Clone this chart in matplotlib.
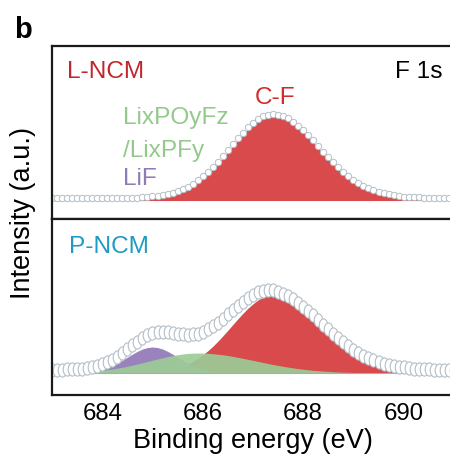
import matplotlib
matplotlib.use('Agg')
import matplotlib.pyplot as plt
import numpy as np
from matplotlib.path import Path
from matplotlib.transforms import Affine2D

plt.rcParams['font.family'] = ['Liberation Sans', 'DejaVu Sans']

# binding energy grid (eV), 683.0 ... 691.0 in 0.1 steps
energia = np.round(np.arange(683.0, 691.05, 0.1), 1)

# L-NCM (top panel), intensidade em u.a.
L_dados = [2.0, 2.0, 2.0, 2.0, 2.0, 2.0, 2.0, 2.0, 2.0, 2.0,
           2.0, 2.0, 2.1, 2.1, 2.2, 2.3, 2.4, 2.5, 2.8, 3.1,
           3.6, 4.2, 4.9, 6.0, 7.3, 8.9, 10.9, 13.4, 16.3, 19.7,
           23.6, 28.1, 33.0, 38.4, 44.1, 50.0, 55.9, 61.8, 67.5, 72.7,
           77.2, 80.9, 83.7, 85.4, 86.0, 85.5, 84.0, 81.6, 78.4, 74.5,
           69.9, 64.9, 59.6, 54.1, 48.5, 43.1, 37.9, 33.0, 28.4, 24.2,
           20.5, 17.2, 14.4, 12.0, 9.9, 8.2, 6.8, 5.7, 4.8, 4.1,
           3.5, 3.1, 2.8, 2.6, 2.4, 2.3, 2.2, 2.1, 2.1, 2.1, 2.1]
L_CF = [0, 0, 0, 0, 0, 0, 0, 0, 0, 0,
        0, 0, 0.1, 0.1, 0.2, 0.3, 0.4, 0.5, 0.8, 1.1,
        1.6, 2.2, 2.9, 4.0, 5.3, 6.9, 8.9, 11.4, 14.3, 17.7,
        21.6, 26.1, 31.0, 36.4, 42.1, 48.0, 53.9, 59.8, 65.5, 70.7,
        75.2, 78.9, 81.7, 83.4, 84.0, 83.5, 82.0, 79.6, 76.4, 72.5,
        67.9, 62.9, 57.6, 52.1, 46.5, 41.1, 35.9, 31.0, 26.4, 22.2,
        18.5, 15.2, 12.4, 10.0, 7.9, 6.2, 4.8, 3.7, 2.8, 2.1,
        1.5, 1.1, 0.8, 0.6, 0.4, 0.3, 0.2, 0.1, 0.1, 0.1, 0.1]

# P-NCM (bottom panel)
P_dados = [3.2, 3.3, 3.3, 3.6, 3.7, 4.0, 4.5, 5.1, 5.9, 7.1,
           8.7, 10.7, 13.3, 16.4, 19.9, 23.9, 27.7, 31.5, 34.9, 37.7,
           39.7, 40.7, 41.0, 40.7, 40.1, 39.2, 38.6, 38.4, 38.6, 39.5,
           41.3, 43.7, 46.7, 50.3, 54.3, 58.7, 63.1, 67.4, 71.4, 75.2,
           78.3, 80.8, 82.4, 83.0, 82.6, 81.4, 79.5, 77.1, 73.9, 70.3,
           66.5, 62.2, 57.6, 53.0, 48.3, 43.7, 39.2, 34.7, 30.7, 26.9,
           23.4, 20.3, 17.4, 15.1, 12.9, 11.0, 9.4, 8.2, 7.1, 6.2,
           5.6, 4.8, 4.4, 4.1, 3.8, 3.6, 3.5, 3.3, 3.2, 3.2, 3.1]
P_CF = [0, 0, 0, 0, 0, 0, 0, 0, 0, 0,
        0, 0, 0, 0, 0, 0.1, 0.2, 0.3, 0.5, 0.7,
        1.1, 1.5, 2.1, 2.9, 4.0, 5.3, 7.0, 9.1, 11.6, 14.6,
        18.2, 22.2, 26.7, 31.7, 37.1, 42.7, 48.5, 54.2, 59.7, 64.8,
        69.2, 73.0, 75.7, 77.4, 78.0, 77.6, 76.5, 74.6, 72.0, 68.8,
        65.2, 61.1, 56.6, 52.0, 47.3, 42.6, 38.0, 33.5, 29.3, 25.3,
        21.7, 18.4, 15.4, 12.8, 10.6, 8.6, 6.9, 5.5, 4.4, 3.4,
        2.7, 2.0, 1.5, 1.2, 0.9, 0.6, 0.5, 0.3, 0.2, 0.2, 0.1]
P_LiF = [0, 0, 0, 0.1, 0.2, 0.3, 0.5, 0.9, 1.5, 2.3,
         3.5, 5.1, 7.2, 9.8, 12.7, 15.8, 18.9, 21.7, 24.0, 25.5,
         26.0, 25.5, 24.0, 21.7, 18.9, 15.8, 12.7, 9.8, 7.2, 5.1,
         3.5, 2.3, 1.5, 0.9, 0.5, 0.3, 0.2, 0.1, 0, 0,
         0, 0, 0, 0, 0, 0, 0, 0, 0, 0,
         0, 0, 0, 0, 0, 0, 0, 0, 0, 0,
         0, 0, 0, 0, 0, 0, 0, 0, 0, 0,
         0, 0, 0, 0, 0, 0, 0, 0, 0, 0, 0]
P_LixPOyFz = [0.2, 0.3, 0.3, 0.5, 0.6, 0.8, 1.1, 1.4, 1.7, 2.2,
              2.7, 3.3, 4.0, 4.8, 5.7, 6.8, 7.8, 9.0, 10.2, 11.5,
              12.8, 14.0, 15.2, 16.4, 17.4, 18.3, 19.0, 19.6, 19.9, 20.0,
              19.9, 19.7, 19.3, 18.8, 18.2, 17.5, 16.6, 15.7, 14.7, 13.7,
              12.7, 11.6, 10.6, 9.5, 8.5, 7.6, 6.7, 5.9, 5.1, 4.4,
              3.8, 3.2, 2.7, 2.3, 1.9, 1.6, 1.3, 1.0, 0.8, 0.7,
              0.5, 0.4, 0.3, 0.3, 0.2, 0.1, 0.1, 0.1, 0.1, 0.1,
              0.1, 0, 0, 0, 0, 0, 0, 0, 0, 0, 0]

xTicks = [684, 686, 688, 690]

corVermelho = '#D84A4B'
corVerde = '#9DCB97'
corRoxo = '#9A82BC'
corCirculo = '#B3BEC7'

# circulo achatado (os pontos parecem elipses na figura original)
elipse = Path.unit_circle().transformed(Affine2D().scale(0.65, 1.0))

fig = plt.figure(figsize=(4.5, 4.6), dpi=100, facecolor='w')
ax1 = fig.add_axes([0.1156, 0.5217, 0.893, 0.376])
ax2 = fig.add_axes([0.1156, 0.1391, 0.893, 0.3826])

####painel L-NCM
ax1.axhline(0, color=corVermelho, linewidth=0.8)
ax1.fill_between(energia, 0, L_CF, color=corVermelho, linewidth=0)
ax1.plot(energia, L_dados, linestyle='none', marker='o', markersize=4.6,
         markerfacecolor='w', markeredgecolor=corCirculo, markeredgewidth=0.7)
ax1.set_xlim(683, 691)
ax1.set_ylim(-19, 154)
ax1.set_xticks([])
ax1.set_yticks([])
tam = 17.6
ax1.text(683.3, 123, 'L-NCM', color='#C0272D', fontsize=tam, va='baseline')
ax1.text(690.78, 123, 'F 1s', color='k', fontsize=tam, va='baseline', ha='right')
ax1.text(687.45, 97, 'C-F', color='#D42A2A', fontsize=tam, va='baseline', ha='center')
ax1.text(684.42, 76.7, 'LixPOyFz', color='#94C98C', fontsize=tam, va='baseline')
ax1.text(684.42, 44.3, '/LixPFy', color='#94C98C', fontsize=tam, va='baseline')
ax1.text(684.42, 16, 'LiF', color='#8F7BB5', fontsize=tam, va='baseline')

##painel P-NCM
ax2.axhline(0, color='#9DB59A', linewidth=0.8)
ax2.fill_between(energia, 0, P_CF, color=corVermelho, linewidth=0)
ax2.fill_between(energia, 0, P_LiF, color=corRoxo, linewidth=0)
ax2.fill_between(energia, 0, P_LixPOyFz, color=corVerde, linewidth=0, alpha=0.92)
ax2.plot(energia, P_dados, linestyle='none', marker=elipse, markersize=9.5,
         markerfacecolor='w', markeredgecolor=corCirculo, markeredgewidth=0.8)
ax2.set_xlim(683, 691)
ax2.set_ylim(-22, 154)
ax2.set_yticks([])
ax2.set_xticks(xTicks)
ax2.tick_params(axis='x', length=0, pad=5, labelsize=17.3)
ax2.text(683.34, 121, 'P-NCM', color='#1E9BC2', fontsize=tam, va='baseline')
ax2.set_xlabel('Binding energy (eV)', fontsize=19.5, labelpad=2)

for ax in (ax1, ax2):
    for s in ax.spines.values():
        s.set_linewidth(1.6)
        s.set_color('#1a1a1a')

fig.text(0.022, 0.536, 'Intensity (a.u.)', rotation=90, fontsize=19.5,
         va='center', ha='left')
fig.text(0.031, 0.917, 'b', fontsize=21, fontweight='heavy', va='baseline')

plt.savefig('out.png', dpi=100, facecolor='w')
